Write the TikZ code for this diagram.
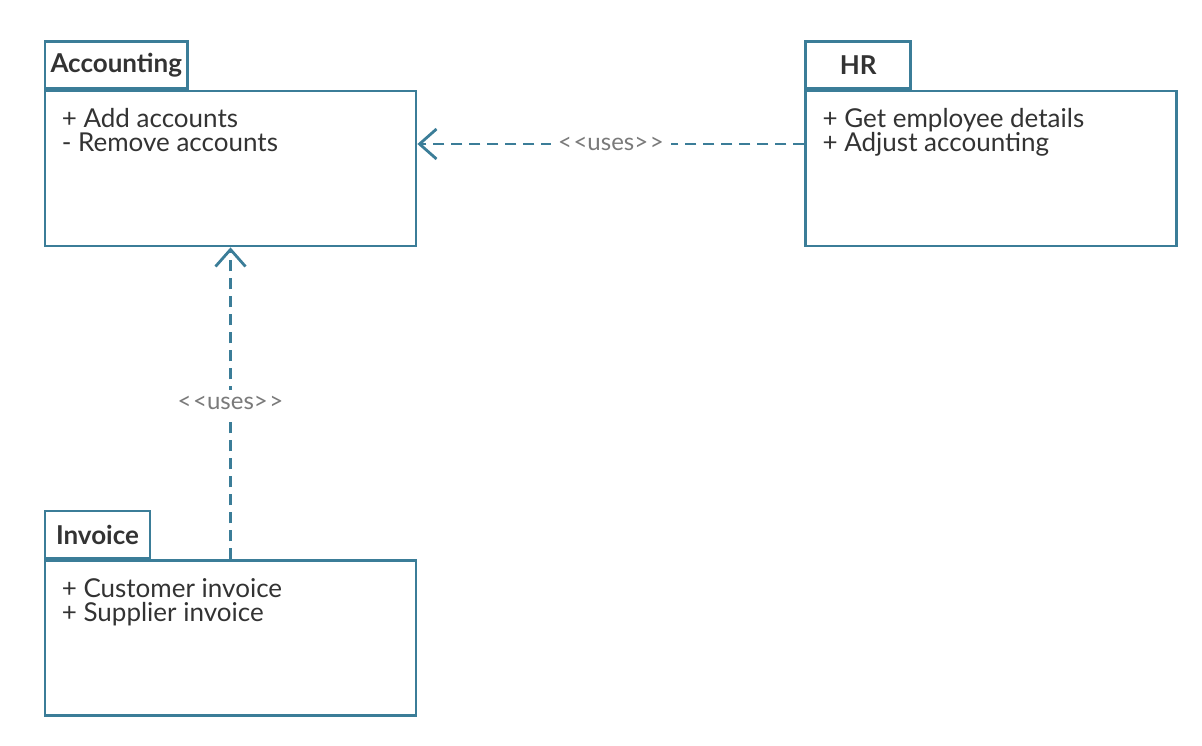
\documentclass[tikz,border=0pt]{standalone}
\usepackage{fontspec}
\setmainfont{Lato}
\usetikzlibrary{positioning}
\usetikzlibrary{arrows.meta}
\definecolor{pkgblue}{HTML}{3B7D98}
\definecolor{pkgtext}{HTML}{333333}
\definecolor{usesgray}{HTML}{7A7A7A}
\newcommand{\usesname}{<\kern1.5pt<uses>\kern1.5pt>}
\tikzstyle{package} = [draw=pkgblue, line width=2.8pt, rectangle,
    minimum width=371pt, minimum height=155pt, inner sep=0pt]
\tikzstyle{tab} = [draw=pkgblue, line width=2.8pt, rectangle, anchor=south west,
    minimum width=105pt, minimum height=47pt, inner xsep=5.5pt,
    font=\fontsize{26}{24}\selectfont\bfseries, text=pkgtext]
\tikzstyle{ops} = [anchor=north west, align=left, inner sep=0pt,
    font=\fontsize{26}{24}\selectfont, text=pkgtext]
\tikzstyle{uses} = [draw=pkgblue, line width=2.8pt, dash pattern=on 11pt off 7pt,
    -{Straight Barb[length=17pt, width=30pt, line width=2.8pt]}]
\tikzstyle{stereo} = [fill=white, inner sep=7pt,
    font=\fontsize{24}{24}\selectfont, text=usesgray]

\begin{document}
\begin{tikzpicture}
    \useasboundingbox (0,0) rectangle (1202pt,-746pt);
    % package bodies
    \node [package] (accounting) at (230.5pt,-168.5pt) {};
    \node [package, right=387pt of accounting] (hr) {};
    \node [package, below=312pt of accounting] (invoice) {};

    % tabs on top of each body
    \node [tab] (accountingtab) at (accounting.north west) {Accounting};
    \node [tab] (hrtab) at (hr.north west) {HR};
    \node [tab] (invoicetab) at (invoice.north west) {Invoice};

    % operations
    \node [ops] (accountingops) at ([xshift=18pt,yshift=-19pt]accounting.north west)
        {+ Add accounts\\- Remove accounts};
    \node [ops] (hrops) at ([xshift=18pt,yshift=-19pt]hr.north west)
        {+ Get employee details\\+ Adjust accounting};
    \node [ops] (invoiceops) at ([xshift=18pt,yshift=-19pt]invoice.north west)
        {+ Customer invoice\\+ Supplier invoice};

    % dependencies
    \draw [uses] ([yshift=24.5pt]hr.west) -- node [stereo] {\usesname}
        ([yshift=24.5pt]accounting.east);
    \draw [uses] (invoice.north) -- node [stereo] {\usesname} (accounting.south);
\end{tikzpicture}
\end{document}
